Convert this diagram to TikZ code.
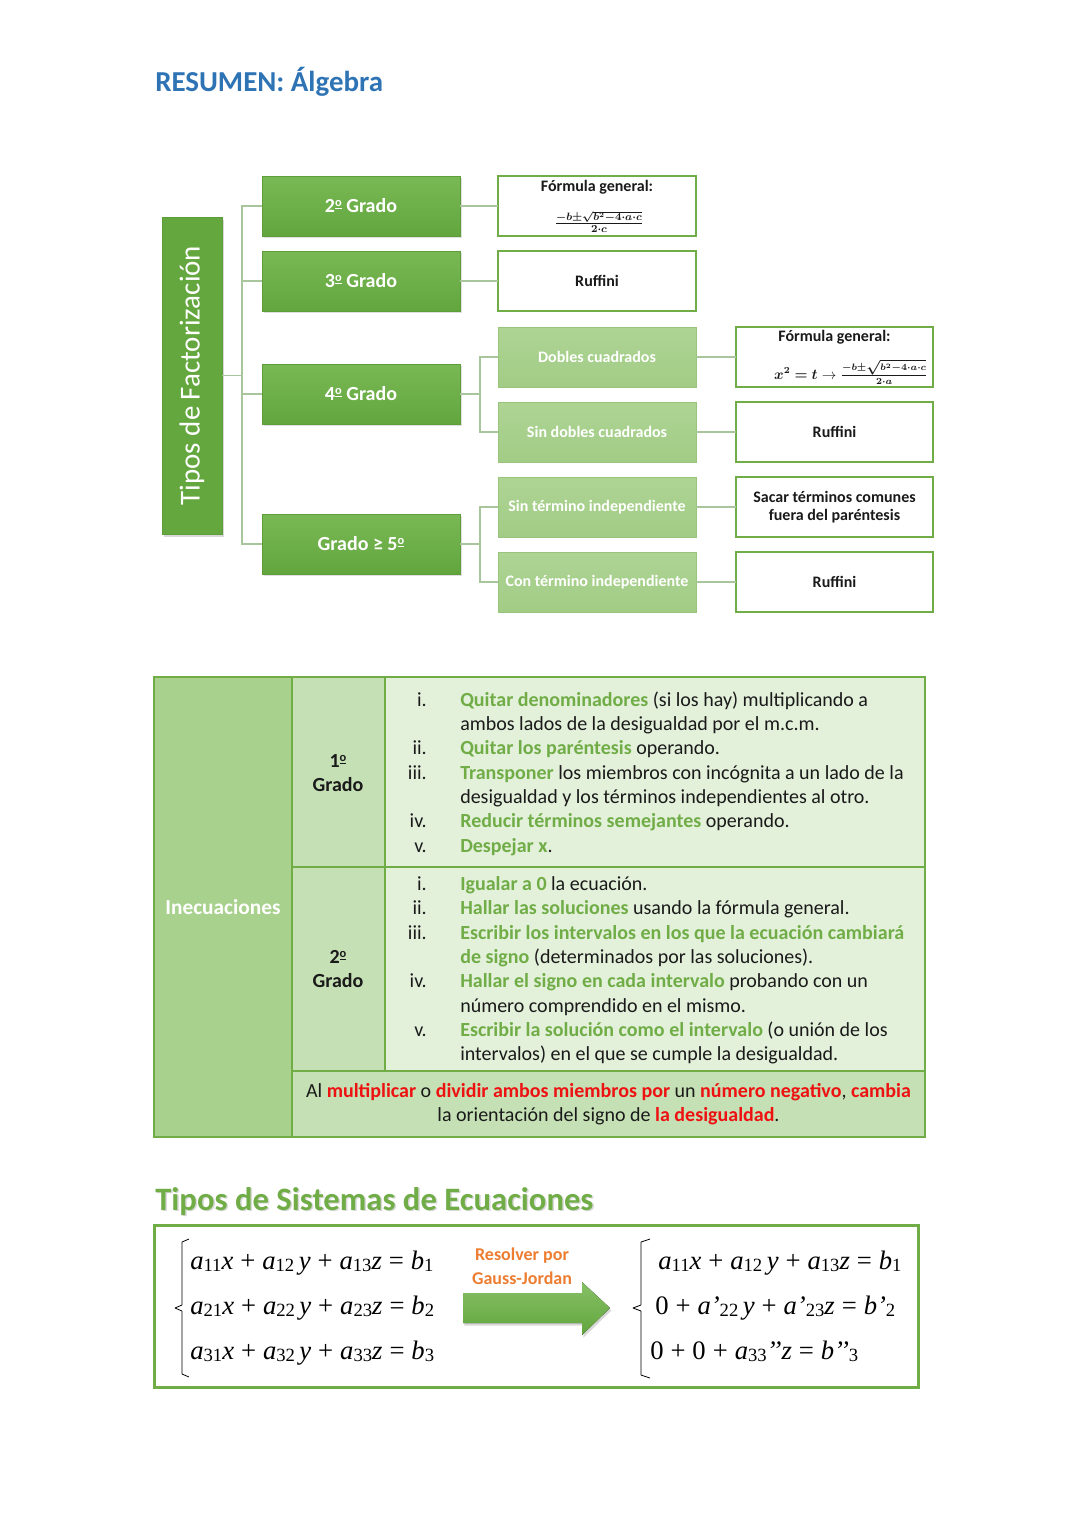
\documentclass[tikz,border=0pt]{standalone}
\usepackage{fontspec}
\setmainfont{Carlito}
\newfontfamily\tnr{Liberation Serif}
\usepackage{amsmath,bm}
\usetikzlibrary{shadows}
\definecolor{titleblue}{HTML}{2E74B5}
\definecolor{gdtop}{HTML}{79B955}
\definecolor{gdbot}{HTML}{62A53D}
\definecolor{gdbord}{HTML}{5E9E3A}
\definecolor{gltop}{HTML}{AED494}
\definecolor{glbot}{HTML}{A2CC86}
\definecolor{glbord}{HTML}{98C47B}
\definecolor{gborder}{HTML}{70AD47}
\definecolor{conncol}{HTML}{A9C59C}
\definecolor{tcA}{HTML}{A9D18E}
\definecolor{tcB}{HTML}{C5E0B4}
\definecolor{tcC}{HTML}{E3F0DA}
\definecolor{txtgreen}{HTML}{70AD47}
\definecolor{txtred}{HTML}{EE1111}
\definecolor{txtorange}{HTML}{ED7D31}
\definecolor{txtdark}{HTML}{1A1A1A}
\newcommand\tgr[1]{\textbf{\textcolor{txtgreen}{#1}}}
\newcommand\trd[1]{\textbf{\textcolor{txtred}{#1}}}
\newcommand\subd[1]{\raisebox{-0.1em}{\fontsize{14}{14}\selectfont #1}}
\newcommand\vv[1]{\textit{#1}}
\newcommand\opr[1]{\hspace{0.26em}#1\hspace{0.26em}}
\newcommand\ordo{\raisebox{0.62ex}{\scalebox{0.62}{\underline{o}}}}
\newcommand\fracA{$\bm{\frac{-b\pm\sqrt{b^2-4\cdot a\cdot c}}{2\cdot c}}$}
\newcommand\fracB{$\bm{x^2=t}\rightarrow\bm{\frac{-b\pm\sqrt{b^2-4\cdot a\cdot c}}{2\cdot a}}$}
\tikzset{
  dbox/.style={rectangle, minimum width=148.5pt, minimum height=45pt, inner sep=0pt, outer sep=0pt,
    top color=gdtop, bottom color=gdbot, draw=gdbord, line width=0.5pt, text=white,
    font=\fontsize{15}{18}\selectfont\bfseries,
    drop shadow={opacity=0.25, shadow xshift=1.2pt, shadow yshift=-1.5pt}},
  vbox/.style={rectangle, minimum width=237.75pt, minimum height=45pt, inner sep=0pt, outer sep=0pt,
    fill=gdbot!90!gdtop, draw=gdbord, line width=0.5pt, text=white,
    font=\fontsize{21.7}{26}\selectfont,
    drop shadow={opacity=0.3, shadow xshift=1.5pt, shadow yshift=-2pt}},
  lbox/.style={rectangle, minimum width=148.5pt, minimum height=45pt, inner sep=0pt, outer sep=0pt,
    top color=gltop, bottom color=glbot, draw=glbord, line width=0.5pt, text=white,
    font=\fontsize{12}{14}\selectfont\bfseries},
  wbox/.style={rectangle, minimum width=148.5pt, minimum height=45pt, inner sep=0pt, outer sep=0pt,
    fill=white, draw=gborder, line width=1.5pt, text=txtdark,
    font=\fontsize{12}{14.5}\selectfont\bfseries, align=center},
  intext/.style={inner sep=0pt, text=txtdark},
  conn/.style={draw=conncol, line width=1.1pt},
  tline/.style={anchor=base west, inner sep=0pt, text=txtdark, font=\fontsize{15}{18.4}\selectfont},
  tnum/.style={anchor=base east, inner sep=0pt, text=txtdark, font=\fontsize{15}{18.4}\selectfont},
  tcen/.style={anchor=base, inner sep=0pt, text=txtdark, font=\fontsize{15}{18.4}\selectfont},
  tbord/.style={draw=gborder, line width=1.5pt},
  eqn/.style={anchor=base west, inner sep=0pt, text=black, font=\tnr\fontsize{20}{24}\selectfont},
  brace/.style={draw=black, line width=0.6pt, line join=round},
}
\begin{document}
\begin{tikzpicture}[x=0.75pt,y=-0.75pt]
\useasboundingbox[fill=white] (0,0) rectangle (1080,1527);

% ---------- title ----------
\node[anchor=base west, inner sep=0pt, text=titleblue, font=\fontsize{21.7}{26}\selectfont\bfseries] (title) at (155,91) {RESUMEN: Álgebra};

% ---------- factorization tree ----------
\node[vbox, rotate=90] (tf) at (192,375.5) {Tipos de Factorización};

\node[dbox] (g2) at (361,206) {2\ordo{} Grado};
\node[dbox] (g3) at (361,281) {3\ordo{} Grado};
\node[dbox] (g4) at (361,394) {4\ordo{} Grado};
\node[dbox] (g5) at (361,544) {Grado ≥ 5\ordo};

\node[wbox] (f2) at (597,206) {};
\node[intext, font=\fontsize{12}{14}\selectfont\bfseries] (f2t) at (597,187) {Fórmula general:};
\node[intext, font=\fontsize{11}{13}\selectfont] (f2f) at (599,222) {\fracA};
\node[wbox] (r3) at (597,281) {Ruffini};

\node[lbox] (dc) at (597,357) {Dobles cuadrados};
\node[lbox] (sd) at (597,432) {Sin dobles cuadrados};
\node[lbox] (st) at (597,507) {Sin término independiente};
\node[lbox] (ct) at (597,582) {Con término independiente};

\node[wbox, minimum width=147.75pt] (fd) at (834.5,357) {};
\node[intext, font=\fontsize{12}{14}\selectfont\bfseries] (fdt) at (834.5,337) {Fórmula general:};
\node[intext, font=\fontsize{10.6}{13}\selectfont] (fdf) at (851,372) {\fracB};
\node[wbox, minimum width=147.75pt] (rd) at (834.5,432) {Ruffini};
\node[wbox, minimum width=147.75pt] (sc) at (834.5,507) {Sacar términos comunes\\[-1pt]fuera del paréntesis};
\node[wbox, minimum width=147.75pt] (rc) at (834.5,582) {Ruffini};

\coordinate (trunk) at (242,375.5);
\draw[conn] (tf.south) -- (trunk);
\draw[conn] (g2.west) -| (trunk);
\draw[conn] (g3.west) -| (trunk);
\draw[conn] (g4.west) -| (trunk);
\draw[conn] (g5.west) -| (trunk);
\draw[conn] (g2.east) -- (f2.west);
\draw[conn] (g3.east) -- (r3.west);
\coordinate (k4) at (480,394);
\draw[conn] (g4.east) -- (k4);
\draw[conn] (dc.west) -| (k4);
\draw[conn] (sd.west) -| (k4);
\coordinate (k5) at (480,544);
\draw[conn] (g5.east) -- (k5);
\draw[conn] (st.west) -| (k5);
\draw[conn] (ct.west) -| (k5);
\draw[conn] (dc.east) -- (fd.west);
\draw[conn] (sd.east) -- (rd.west);
\draw[conn] (st.east) -- (sc.west);
\draw[conn] (ct.east) -- (rc.west);

% ---------- inequalities table ----------
\fill[tcA] (154,677) rectangle (292,1137);
\fill[tcB] (292,677) rectangle (385,1071);
\fill[tcC] (385,677) rectangle (925,1071);
\fill[tcB] (292,1071) rectangle (925,1137);
\draw[tbord] (154,677) rectangle (925,1137);
\draw[tbord] (292,677) -- (292,1137);
\draw[tbord] (385,677) -- (385,1071);
\draw[tbord] (292,867) -- (925,867);
\draw[tbord] (292,1071) -- (925,1071);

\node[inner sep=0pt, text=white, font=\fontsize{16}{19}\selectfont\bfseries] (inec) at (223,907) {Inecuaciones};
\node[inner sep=0pt, text=txtdark, align=center, font=\fontsize{15}{18.4}\selectfont\bfseries] (gr1) at (338,773) {1\ordo\\Grado};
\node[inner sep=0pt, text=txtdark, align=center, font=\fontsize{15}{18.4}\selectfont\bfseries] (gr2) at (338,969) {2\ordo\\Grado};

% row 1
\node[tnum] (n1a) at (427,706) {i.};
\node[tline] (l1a) at (460,706) {\tgr{Quitar denominadores} (si los hay) multiplicando a};
\node[tline] (l1b) at (460,730) {ambos lados de la desigualdad por el m.c.m.};
\node[tnum] (n1b) at (427,754) {ii.};
\node[tline] (l1c) at (460,754) {\tgr{Quitar los paréntesis} operando.};
\node[tnum] (n1c) at (427,779) {iii.};
\node[tline] (l1d) at (460,779) {\tgr{Transponer} los miembros con incógnita a un lado de la};
\node[tline] (l1e) at (460,803) {desigualdad y los términos independientes al otro.};
\node[tnum] (n1d) at (427,827) {iv.};
\node[tline] (l1f) at (460,827) {\tgr{Reducir términos semejantes} operando.};
\node[tnum] (n1e) at (427,852) {v.};
\node[tline] (l1g) at (460,852) {\tgr{Despejar x}.};

% row 2
\node[tnum] (n2a) at (427,890) {i.};
\node[tline] (l2a) at (460,890) {\tgr{Igualar a 0} la ecuación.};
\node[tnum] (n2b) at (427,914) {ii.};
\node[tline] (l2b) at (460,914) {\tgr{Hallar las soluciones} usando la fórmula general.};
\node[tnum] (n2c) at (427,939) {iii.};
\node[tline] (l2c) at (460,939) {\tgr{Escribir los intervalos en los que la ecuación cambiará}};
\node[tline] (l2d) at (460,963) {\tgr{de signo} (determinados por las soluciones).};
\node[tnum] (n2d) at (427,987) {iv.};
\node[tline] (l2e) at (460,987) {\tgr{Hallar el signo en cada intervalo} probando con un};
\node[tline] (l2f) at (460,1012) {número comprendido en el mismo.};
\node[tnum] (n2e) at (427,1036) {v.};
\node[tline] (l2g) at (460,1036) {\tgr{Escribir la solución como el intervalo} (o unión de los};
\node[tline] (l2h) at (460,1060) {intervalos) en el que se cumple la desigualdad.};

% row 3
\node[tcen] (l3a) at (608.5,1097) {Al \trd{multiplicar} o \trd{dividir ambos miembros por} un \trd{número negativo}, \trd{cambia}};
\node[tcen] (l3b) at (608.5,1121) {la orientación del signo de \trd{la desigualdad}.};

% ---------- systems ----------
\node[anchor=base west, inner sep=0pt, text=black, opacity=0.15, font=\fontsize{24.5}{29}\selectfont\bfseries] (stsh) at (156.5,1211.5) {Tipos de Sistemas de Ecuaciones};
\node[anchor=base west, inner sep=0pt, text=txtgreen, font=\fontsize{24.5}{29}\selectfont\bfseries] (st2) at (155,1210) {Tipos de Sistemas de Ecuaciones};

\draw[draw=gborder, line width=2.25pt] (154,1225) rectangle (918,1387);

\draw[brace] (189,1239) -- (182,1242) -- (182,1305) -- (175,1308) -- (182,1311) -- (182,1374) -- (189,1377);
\node[eqn] (e1) at (190,1269) {\vv{a}\subd{11}\vv{x}\opr{+}\vv{a}\subd{12}\,\vv{y}\opr{+}\vv{a}\subd{13}\vv{z}\opr{=}\vv{b}\subd{1}};
\node[eqn] (e2) at (190,1314) {\vv{a}\subd{21}\vv{x}\opr{+}\vv{a}\subd{22}\,\vv{y}\opr{+}\vv{a}\subd{23}\vv{z}\opr{=}\vv{b}\subd{2}};
\node[eqn] (e3) at (190,1359) {\vv{a}\subd{31}\vv{x}\opr{+}\vv{a}\subd{32}\,\vv{y}\opr{+}\vv{a}\subd{33}\vv{z}\opr{=}\vv{b}\subd{3}};

\node[inner sep=0pt, text=txtorange, align=center, font=\fontsize{13.5}{18}\selectfont\bfseries] (gj) at (522,1266) {Resolver por\\Gauss-Jordan};
\fill[top color=gdtop!90!white, bottom color=gdbot, drop shadow={opacity=0.3, shadow xshift=1pt, shadow yshift=-2pt}]
  (463,1293) -- (582,1293) -- (582,1282) -- (610,1308) -- (582,1335) -- (582,1323) -- (463,1323) -- cycle;

\draw[brace] (650,1239) -- (641,1242) -- (641,1305) -- (633,1308) -- (641,1311) -- (641,1375) -- (650,1378);
\node[eqn] (r1) at (658,1269) {\vv{a}\subd{11}\vv{x}\opr{+}\vv{a}\subd{12}\,\vv{y}\opr{+}\vv{a}\subd{13}\vv{z}\opr{=}\vv{b}\subd{1}};
\node[eqn] (r2) at (655,1314) {0\opr{+}\vv{a’}\subd{22}\,\vv{y}\opr{+}\vv{a’}\subd{23}\vv{z}\opr{=}\vv{b’}\subd{2}};
\node[eqn] (r3b) at (650,1359) {0\opr{+}0\opr{+}\vv{a}\subd{33}\vv{’’z}\opr{=}\vv{b’’}\subd{3}};
\end{tikzpicture}
\end{document}
